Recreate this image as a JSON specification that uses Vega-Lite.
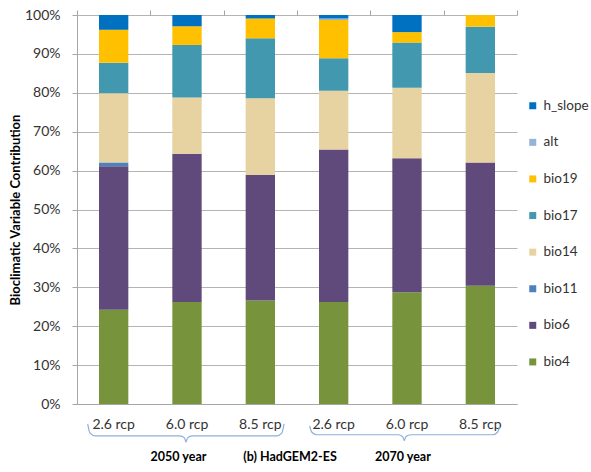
{
  "$schema": "https://vega.github.io/schema/vega-lite/v6.json",
  "width": 440,
  "height": 389,
  "padding": {"left": 9, "top": 8, "right": 5, "bottom": 5},
  "background": "white",
  "config": {
    "view": {"stroke": null},
    "font": "Lato",
    "axis": {"labelFont": "Lato", "titleFont": "Lato"},
    "axisY": {
      "title": "Bioclimatic Variable Contribution",
      "titleFontSize": 13,
      "titleFontWeight": "bold",
      "titleColor": "#000000",
      "titlePadding": 2,
      "values": [0, 10, 20, 30, 40, 50, 60, 70, 80, 90, 100],
      "labelOverlap": false,
      "labelExpr": "datum.value + '%'",
      "labelFontSize": 14,
      "labelColor": "#333333",
      "labelPadding": 12,
      "tickSize": 5,
      "tickColor": "#A6A6A6",
      "domainColor": "#A6A6A6",
      "gridColor": "#B4B4B4",
      "grid": true
    },
    "legend": {"labelFont": "Lato"}
  },
  "datasets": {
    "bars": [
      {"scenario": "2050|2.6 rcp", "variable": "bio4", "percent": 24.2},
      {"scenario": "2050|2.6 rcp", "variable": "bio6", "percent": 36.9},
      {"scenario": "2050|2.6 rcp", "variable": "bio11", "percent": 1.0},
      {"scenario": "2050|2.6 rcp", "variable": "bio14", "percent": 17.8},
      {"scenario": "2050|2.6 rcp", "variable": "bio17", "percent": 7.8},
      {"scenario": "2050|2.6 rcp", "variable": "bio19", "percent": 8.5},
      {"scenario": "2050|2.6 rcp", "variable": "h_slope", "percent": 3.8},
      {"scenario": "2050|6.0 rcp", "variable": "bio4", "percent": 26.2},
      {"scenario": "2050|6.0 rcp", "variable": "bio6", "percent": 38.1},
      {"scenario": "2050|6.0 rcp", "variable": "bio14", "percent": 14.5},
      {"scenario": "2050|6.0 rcp", "variable": "bio17", "percent": 13.5},
      {"scenario": "2050|6.0 rcp", "variable": "bio19", "percent": 4.8},
      {"scenario": "2050|6.0 rcp", "variable": "h_slope", "percent": 2.9},
      {"scenario": "2050|8.5 rcp", "variable": "bio4", "percent": 26.6},
      {"scenario": "2050|8.5 rcp", "variable": "bio6", "percent": 32.3},
      {"scenario": "2050|8.5 rcp", "variable": "bio14", "percent": 19.7},
      {"scenario": "2050|8.5 rcp", "variable": "bio17", "percent": 15.4},
      {"scenario": "2050|8.5 rcp", "variable": "bio19", "percent": 5.1},
      {"scenario": "2050|8.5 rcp", "variable": "h_slope", "percent": 0.9},
      {"scenario": "2070|2.6 rcp", "variable": "bio4", "percent": 26.2},
      {"scenario": "2070|2.6 rcp", "variable": "bio6", "percent": 39.2},
      {"scenario": "2070|2.6 rcp", "variable": "bio14", "percent": 15.1},
      {"scenario": "2070|2.6 rcp", "variable": "bio17", "percent": 8.4},
      {"scenario": "2070|2.6 rcp", "variable": "bio19", "percent": 9.8},
      {"scenario": "2070|2.6 rcp", "variable": "alt", "percent": 0.4},
      {"scenario": "2070|2.6 rcp", "variable": "h_slope", "percent": 0.9},
      {"scenario": "2070|6.0 rcp", "variable": "bio4", "percent": 28.7},
      {"scenario": "2070|6.0 rcp", "variable": "bio6", "percent": 34.5},
      {"scenario": "2070|6.0 rcp", "variable": "bio14", "percent": 18.1},
      {"scenario": "2070|6.0 rcp", "variable": "bio17", "percent": 11.6},
      {"scenario": "2070|6.0 rcp", "variable": "bio19", "percent": 2.7},
      {"scenario": "2070|6.0 rcp", "variable": "h_slope", "percent": 4.4},
      {"scenario": "2070|8.5 rcp", "variable": "bio4", "percent": 30.4},
      {"scenario": "2070|8.5 rcp", "variable": "bio6", "percent": 31.7},
      {"scenario": "2070|8.5 rcp", "variable": "bio14", "percent": 23.0},
      {"scenario": "2070|8.5 rcp", "variable": "bio17", "percent": 11.9},
      {"scenario": "2070|8.5 rcp", "variable": "bio19", "percent": 3.0}
    ],
    "braces": [
      {"brace": "2050", "pos": 0.146, "level": -5.1},
      {"brace": "2050", "pos": 0.175, "level": -7.4},
      {"brace": "2050", "pos": 0.25, "level": -8.2},
      {"brace": "2050", "pos": 1.40, "level": -8.2},
      {"brace": "2050", "pos": 1.465, "level": -8.7},
      {"brace": "2050", "pos": 1.486, "level": -9.8},
      {"brace": "2050", "pos": 1.507, "level": -8.7},
      {"brace": "2050", "pos": 1.57, "level": -8.2},
      {"brace": "2050", "pos": 2.72, "level": -8.2},
      {"brace": "2050", "pos": 2.795, "level": -7.4},
      {"brace": "2050", "pos": 2.823, "level": -5.1},
      {"brace": "2070", "pos": 3.173, "level": -5.6},
      {"brace": "2070", "pos": 3.2, "level": -7.2},
      {"brace": "2070", "pos": 3.27, "level": -7.9},
      {"brace": "2070", "pos": 4.38, "level": -7.9},
      {"brace": "2070", "pos": 4.442, "level": -8.4},
      {"brace": "2070", "pos": 4.463, "level": -9.4},
      {"brace": "2070", "pos": 4.484, "level": -8.4},
      {"brace": "2070", "pos": 4.55, "level": -7.9},
      {"brace": "2070", "pos": 5.67, "level": -7.9},
      {"brace": "2070", "pos": 5.737, "level": -7.2},
      {"brace": "2070", "pos": 5.764, "level": -5.6}
    ],
    "captions": [
      {"label": "2050 year", "pos": 1.384, "level": -13.6},
      {"label": "(b) HadGEM2-ES", "pos": 2.905, "level": -13.6},
      {"label": "2070 year", "pos": 4.445, "level": -13.6}
    ]
  },
  "layer": [
    {
      "data": {"name": "bars"},
      "transform": [
        {"calculate": "indexof(['bio4','bio6','bio11','bio14','bio17','bio19','alt','h_slope'], datum.variable)", "as": "ord"}
      ],
      "mark": {"type": "bar", "clip": false},
      "encoding": {
        "x": {
          "field": "scenario",
          "type": "nominal",
          "sort": null,
          "scale": {"paddingInner": 0.6, "paddingOuter": 0.3},
          "axis": {
            "title": null,
            "labelExpr": "split(datum.label, '|')[1]",
            "labelAngle": 0,
            "labelFontSize": 14,
            "labelColor": "#333333",
            "labelPadding": 13,
            "ticks": false,
            "domain": true,
            "domainColor": "#A6A6A6",
            "grid": false
          }
        },
        "y": {
          "field": "percent",
          "type": "quantitative",
          "stack": "zero",
          "scale": {"domain": [0, 100], "nice": false},
          "title": "Bioclimatic Variable Contribution"
        },
        "color": {
          "field": "variable",
          "type": "nominal",
          "scale": {
            "domain": ["h_slope", "alt", "bio19", "bio17", "bio14", "bio11", "bio6", "bio4"],
            "range": ["#0070C0", "#95B3D7", "#FFC000", "#4198AF", "#E7D3A1", "#4F81BD", "#604A7B", "#77933C"]
          },
          "legend": {
            "title": null,
            "orient": "none",
            "legendX": 449,
            "legendY": 84,
            "padding": 0,
            "symbolType": "square",
            "symbolSize": 49,
            "symbolStrokeWidth": 0,
            "labelFontSize": 13.5,
            "labelColor": "#333333",
            "labelOffset": 4,
            "rowPadding": 21.6
          }
        },
        "order": {"field": "ord", "type": "quantitative"}
      }
    },
    {
      "data": {"name": "braces"},
      "mark": {"type": "line", "clip": false, "interpolate": "monotone", "color": "#8EB0DA", "strokeWidth": 1.2},
      "encoding": {
        "x": {
          "field": "pos",
          "type": "quantitative",
          "scale": {"domain": [0, 6], "nice": false, "zero": false},
          "axis": {
            "title": null,
            "values": [0, 1, 2, 3, 4, 5, 6],
            "labels": false,
            "domain": false,
            "grid": false,
            "ticks": true,
            "tickSize": 5,
            "tickColor": "#A6A6A6"
          }
        },
        "y": {"field": "level", "type": "quantitative", "title": "Bioclimatic Variable Contribution"},
        "detail": {"field": "brace"}
      }
    },
    {
      "data": {"name": "captions"},
      "mark": {"type": "text", "clip": false, "fontWeight": "bold", "fontSize": 12.5, "font": "Lato", "color": "#000000", "baseline": "middle", "align": "center"},
      "encoding": {
        "x": {"field": "pos", "type": "quantitative", "scale": {"domain": [0, 6], "nice": false, "zero": false}, "axis": null},
        "y": {"field": "level", "type": "quantitative", "title": "Bioclimatic Variable Contribution"},
        "text": {"field": "label"}
      }
    }
  ],
  "resolve": {"scale": {"x": "independent"}}
}
